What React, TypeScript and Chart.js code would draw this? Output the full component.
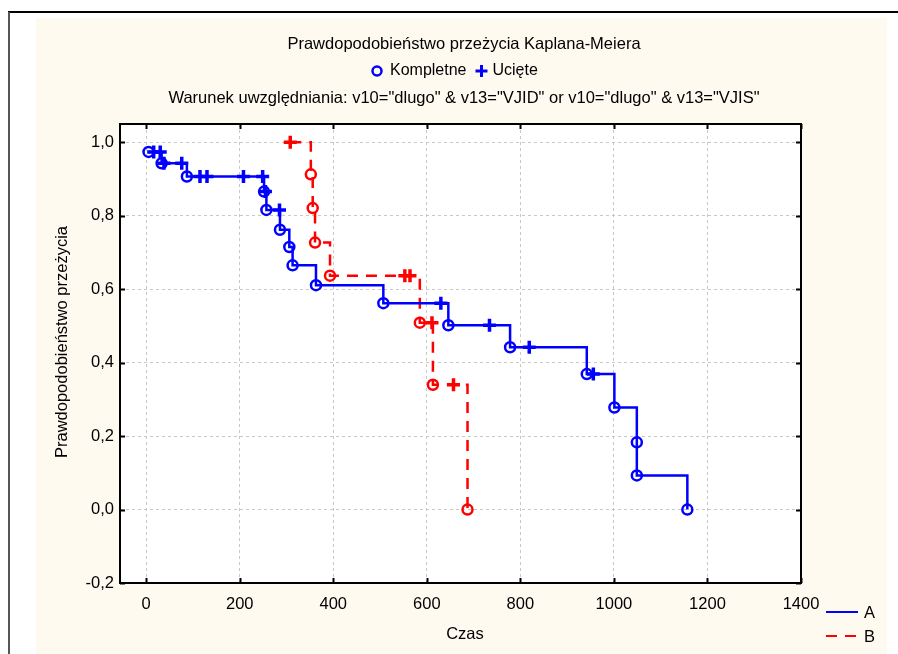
import React, { useEffect, useRef } from 'react';
import { Chart, registerables } from 'chart.js';

Chart.register(...registerables);

const TITLE = 'Prawdopodobieństwo przeżycia Kaplana-Meiera';
const SUBTITLE = 'Warunek uwzględniania: v10="dlugo" & v13="VJID" or v10="dlugo" & v13="VJIS"';
const MARK_LABELS = ['Kompletne', 'Ucięte'];
const X_TITLE = 'Czas';
const Y_TITLE = 'Prawdopodobieństwo przeżycia';
const GROUP_LABELS = ['A', 'B'];

const xTicks = [0, 200, 400, 600, 800, 1000, 1200, 1400];
const yTicks = [-0.2, 0, 0.2, 0.4, 0.6, 0.8, 1.0];

// Group A: complete (event) observations
const aEventTimes = [5, 33, 87, 252, 257, 286, 306, 313, 363, 507, 646, 778, 942, 1001, 1049, 1049, 1157];
const aEventSurv = [0.974, 0.943, 0.907, 0.866, 0.816, 0.762, 0.715, 0.665, 0.611, 0.562, 0.502, 0.442, 0.369, 0.278, 0.183, 0.093, 0.0];
// Group A: censored observations
const aCensTimes = [16, 30, 38, 76, 115, 130, 208, 249, 255, 285, 630, 734, 819, 956];
const aCensSurv = [0.974, 0.974, 0.943, 0.943, 0.907, 0.907, 0.907, 0.907, 0.866, 0.816, 0.562, 0.502, 0.442, 0.369];

// Group B: complete (event) observations
const bEventTimes = [352, 356, 361, 393, 585, 613, 687];
const bEventSurv = [0.913, 0.821, 0.727, 0.637, 0.509, 0.34, 0.0];
// Group B: censored observations
const bCensTimes = [308, 553, 564, 611, 657];
const bCensSurv = [1.0, 0.637, 0.637, 0.509, 0.34];

const BLUE = '#0000ff';
const RED = '#ff0000';
const FONT = "'Liberation Sans', Arial, sans-serif";
const FS = 16.5;
const FS_LEG = 16;

type P = { x: number; y: number };
const pts = (t: number[], s: number[]): P[] => t.map((v, i) => ({ x: v, y: s[i] }));
const stepLine = (et: number[], es: number[], ct: number[], cs: number[]): P[] =>
  [...pts(et, es), ...pts(ct, cs)].sort((a, b) => (a.x - b.x) || (b.y - a.y));

const fmt = (v: number) => v.toFixed(1).replace('.', ',');

const decor = {
  id: 'decor',
  beforeDraw(chart: any) {
    const { ctx, chartArea: a } = chart;
    ctx.save();
    ctx.fillStyle = '#ffffff';
    ctx.fillRect(0, 0, chart.width, chart.height);
    ctx.fillStyle = '#fffaf0';
    ctx.fillRect(36, 18, 851, chart.height - 18);
    ctx.strokeStyle = '#000000';
    ctx.lineWidth = 2;
    ctx.beginPath();
    ctx.moveTo(8, 12);
    ctx.lineTo(chart.width, 12);
    ctx.stroke();
    ctx.strokeStyle = '#555555';
    ctx.beginPath();
    ctx.moveTo(9, 12);
    ctx.lineTo(9, chart.height);
    ctx.stroke();
    ctx.fillStyle = '#ffffff';
    ctx.fillRect(a.left, a.top, a.right - a.left, a.bottom - a.top);
    ctx.restore();
  },
  afterDraw(chart: any) {
    const { ctx, chartArea: a } = chart;
    const xs = chart.scales.x;
    const ys = chart.scales.y;
    ctx.save();
    // plot frame
    ctx.strokeStyle = '#000';
    ctx.lineWidth = 2;
    ctx.strokeRect(a.left, a.top, a.right - a.left, a.bottom - a.top);
    // inward ticks
    ctx.beginPath();
    xTicks.forEach((v) => {
      const px = Math.round(xs.getPixelForValue(v)) + 0.5;
      ctx.moveTo(px, a.top); ctx.lineTo(px, a.top + 5);
      ctx.moveTo(px, a.bottom); ctx.lineTo(px, a.bottom - 5);
    });
    yTicks.forEach((v) => {
      const py = Math.round(ys.getPixelForValue(v)) + 0.5;
      ctx.moveTo(a.left, py); ctx.lineTo(a.left + 5, py);
      ctx.moveTo(a.right, py); ctx.lineTo(a.right - 5, py);
    });
    ctx.stroke();

    // texts
    ctx.fillStyle = '#000';
    ctx.font = `${FS}px ${FONT}`;
    ctx.textBaseline = 'middle';
    ctx.textAlign = 'center';
    ctx.fillText(TITLE, 464, 44);
    ctx.fillText(SUBTITLE, 464, 98);
    ctx.fillText(X_TITLE, 465, 634);
    ctx.save();
    ctx.translate(62, 342);
    ctx.rotate(-Math.PI / 2);
    ctx.fillText(Y_TITLE, 0, 0);
    ctx.restore();

    // marker legend
    ctx.font = `${FS_LEG}px ${FONT}`;
    ctx.textAlign = 'left';
    const w1 = ctx.measureText(MARK_LABELS[0]).width;
    const ly = 71;
    let x0 = 377;
    ctx.strokeStyle = BLUE;
    ctx.lineWidth = 2.5;
    ctx.beginPath();
    ctx.arc(x0, ly, 4.5, 0, Math.PI * 2);
    ctx.stroke();
    x0 += 13;
    ctx.fillText(MARK_LABELS[0], x0, ly);
    x0 += w1 + 15;
    ctx.lineWidth = 3;
    ctx.beginPath();
    ctx.moveTo(x0 - 6, ly); ctx.lineTo(x0 + 6, ly);
    ctx.moveTo(x0, ly - 6); ctx.lineTo(x0, ly + 6);
    ctx.stroke();
    x0 += 11;
    ctx.fillText(MARK_LABELS[1], x0, ly);

    // group legend
    ctx.font = `${FS}px ${FONT}`;
    ctx.lineWidth = 2;
    ctx.strokeStyle = BLUE;
    ctx.beginPath();
    ctx.moveTo(826, 612); ctx.lineTo(858, 612);
    ctx.stroke();
    ctx.strokeStyle = RED;
    ctx.setLineDash([11, 8]);
    ctx.beginPath();
    ctx.moveTo(826, 636); ctx.lineTo(860, 636);
    ctx.stroke();
    ctx.setLineDash([]);
    ctx.fillText(GROUP_LABELS[0], 864, 613);
    ctx.fillText(GROUP_LABELS[1], 864, 637);
    ctx.restore();
  },
};

export default function App() {
  const ref = useRef<HTMLCanvasElement | null>(null);
  useEffect(() => {
    if (!ref.current) return;
    const circle = (data: P[], color: string) => ({
      type: 'scatter' as const,
      data,
      pointStyle: 'circle',
      pointRadius: 5,
      pointBorderWidth: 2.5,
      borderColor: color,
      backgroundColor: 'rgba(0,0,0,0)',
      pointBackgroundColor: 'rgba(0,0,0,0)',
      pointBorderColor: color,
      showLine: false,
    });
    const cross = (data: P[], color: string) => ({
      type: 'scatter' as const,
      data,
      pointStyle: 'cross',
      pointRadius: 6.5,
      pointBorderWidth: 3.5,
      borderColor: color,
      pointBorderColor: color,
      backgroundColor: color,
      showLine: false,
    });
    const chart = new Chart(ref.current, {
      type: 'line',
      data: {
        datasets: [
          circle(pts(aEventTimes, aEventSurv), BLUE) as any,
          cross(pts(aCensTimes, aCensSurv), BLUE) as any,
          circle(pts(bEventTimes, bEventSurv), RED) as any,
          cross(pts(bCensTimes, bCensSurv), RED) as any,
          {
            label: GROUP_LABELS[0],
            data: stepLine(aEventTimes, aEventSurv, aCensTimes, aCensSurv),
            borderColor: BLUE,
            borderWidth: 2.5,
            stepped: 'before',
            pointRadius: 0,
            fill: false,
          },
          {
            label: GROUP_LABELS[1],
            data: stepLine(bEventTimes, bEventSurv, bCensTimes, bCensSurv),
            borderColor: RED,
            borderWidth: 2.5,
            borderDash: [11, 8],
            stepped: 'before',
            pointRadius: 0,
            fill: false,
          },
        ],
      },
      options: {
        responsive: false,
        animation: false,
        events: [],
        layout: { padding: { left: 80, top: 124, right: 97, bottom: 41 } },
        plugins: { legend: { display: false }, title: { display: false }, tooltip: { enabled: false } },
        scales: {
          x: {
            type: 'linear',
            min: -56,
            max: 1400,
            afterBuildTicks: (s: any) => { s.ticks = xTicks.map((v) => ({ value: v })); },
            afterFit: (s: any) => { s.height = 30; },
            ticks: {
              font: { family: FONT, size: FS },
              color: '#000',
              padding: 12,
              maxRotation: 0,
              autoSkip: false,
              callback: (v: any) => String(v),
            },
            grid: { color: '#c8c8c8', lineWidth: 1, drawTicks: false },
            border: { display: false, dash: [3, 3] },
          },
          y: {
            type: 'linear',
            min: -0.2,
            max: 1.05,
            afterBuildTicks: (s: any) => { s.ticks = yTicks.map((v) => ({ value: v })); },
            afterFit: (s: any) => { s.width = 40; },
            ticks: { font: { family: FONT, size: FS }, color: '#000', padding: 6, callback: (v: any) => fmt(Number(v)) },
            grid: { color: '#c8c8c8', lineWidth: 1, drawTicks: false },
            border: { display: false, dash: [3, 3] },
          },
        },
      },
      plugins: [decor],
    });
    return () => chart.destroy();
  }, []);
  return (
    <div style={{ position: 'fixed', left: 0, top: 0, width: 898, height: 654 }}>
      <canvas ref={ref} width={898} height={654} style={{ display: 'block' }} />
    </div>
  );
}
